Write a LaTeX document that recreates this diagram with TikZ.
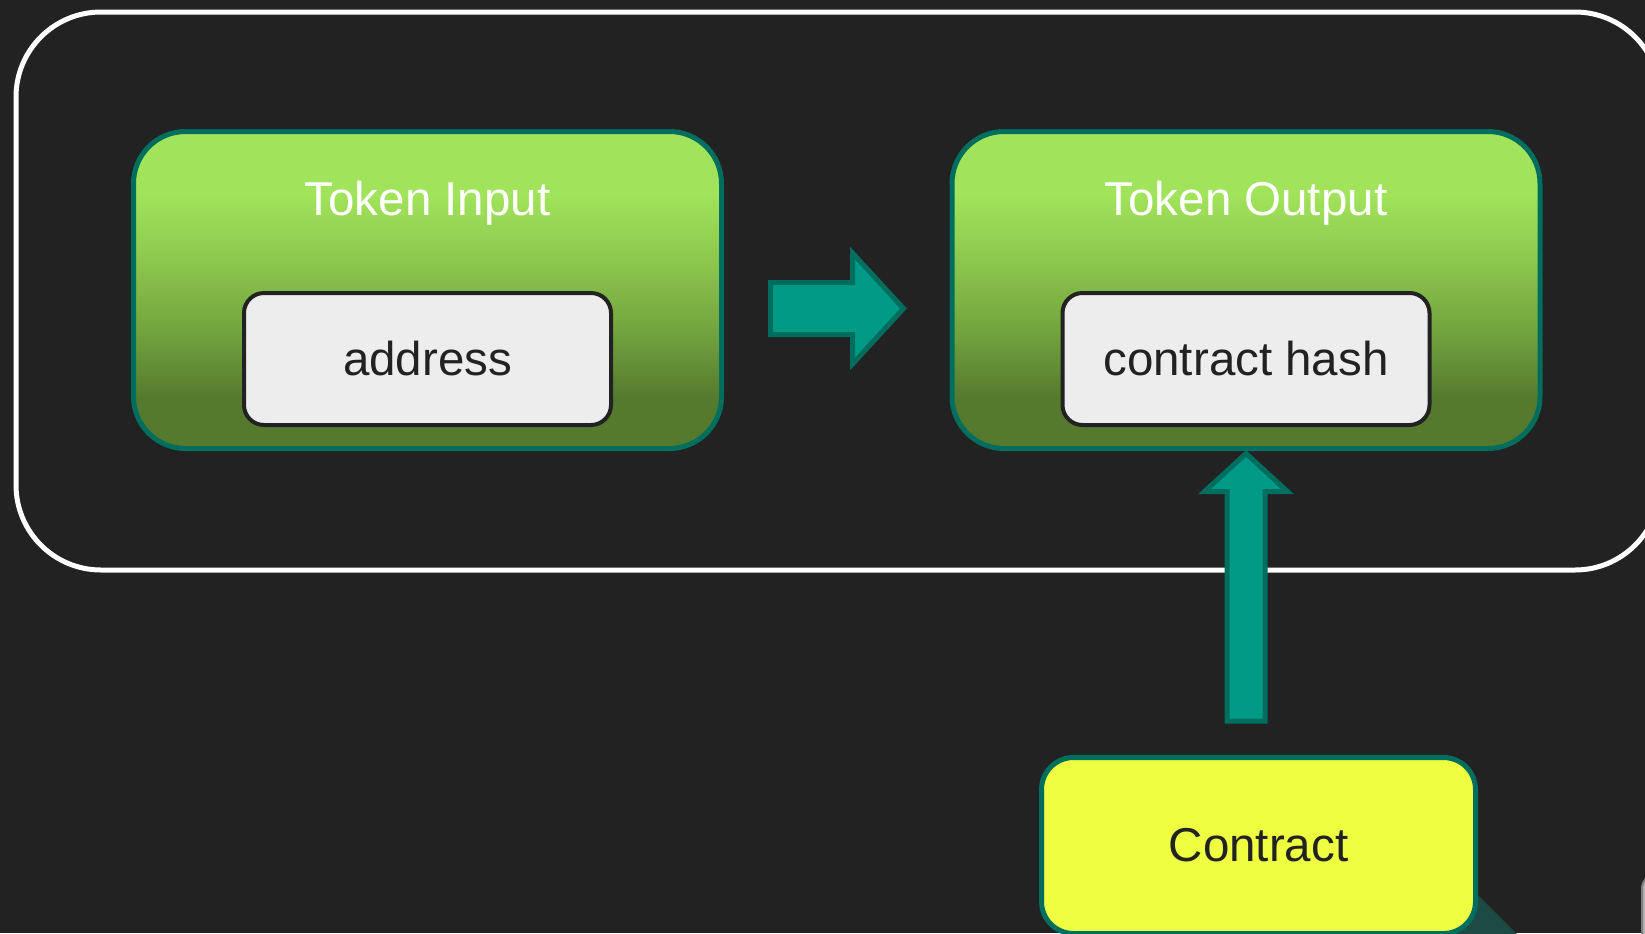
\documentclass[tikz,border=0pt]{standalone}
\usepackage{fontspec}
\setmainfont{Liberation Sans}
\usetikzlibrary{calc}

\definecolor{canvas}{HTML}{222222}
\definecolor{leafhi}{HTML}{A1E35B}
\definecolor{leafmid}{HTML}{8FCB50}
\definecolor{leaflow}{HTML}{74A53F}
\definecolor{leafdark}{HTML}{557A2E}
\definecolor{tealedge}{HTML}{006E5F}
\definecolor{tealfill}{HTML}{009A87}
\definecolor{tealshade}{HTML}{1C4A44}
\definecolor{chipfill}{HTML}{EDEDED}
\definecolor{ink}{HTML}{222222}
\definecolor{lemon}{HTML}{EEFF41}
\definecolor{offgray}{HTML}{B5B5B5}

\pgfdeclareverticalshading{leaf}{100bp}{color(0bp)=(leafdark); color(33bp)=(leafdark);
  color(44bp)=(leaflow); color(56bp)=(leafmid); color(65bp)=(leafhi); color(100bp)=(leafhi)}

\tikzset{
  bigfont/.style={font=\fontsize{23.75}{28}\selectfont},
  frame/.style={draw=white, line width=2.5pt, rounded corners=42.5pt},
  token/.style={draw=tealedge, line width=2.5pt, rounded corners=26pt, shading=leaf,
    minimum width=294pt, minimum height=158.5pt, inner sep=0pt},
  tokentitle/.style={bigfont, text=white, anchor=base, inner sep=0pt},
  chip/.style={draw=ink, line width=2pt, fill=chipfill, rounded corners=10pt,
    minimum width=183.5pt, minimum height=66pt, bigfont, text=ink},
  contractbox/.style={draw=tealedge, line width=2.5pt, fill=lemon, rounded corners=16pt,
    minimum width=217pt, minimum height=88pt, bigfont, text=ink},
  fatarrow/.style={draw=tealedge, fill=tealfill, line width=2.5pt, line join=miter}
}

\begin{document}
\begin{tikzpicture}[x=0.5pt, y=-0.5pt]
\useasboundingbox (0,0) rectangle (1645,933);
\clip (0,0) rectangle (1645,933);
\fill[canvas] (0,0) rectangle (1645,933);

\draw[frame] (16,12) rectangle (1660,570);

\node[token] (tin) at (427.5,290) {};
\node[tokentitle] at ($(tin.north)+(0,-43pt)$) {Token Input};
\node[chip] (address) at ($(tin.center)+(0,-34.5pt)$) {address};

\node[token] (tout) at (1246,290) {};
\node[tokentitle] at ($(tout.north)+(0,-43pt)$) {Token Output};
\node[chip] (hash) at ($(tout.center)+(0,-34.5pt)$) {contract hash};

% partly hidden shapes at the lower right
\fill[tealshade] (1476,893) -- (1518,935) -- (1450,935) -- cycle;
\draw[draw=gray, fill=offgray, line width=1pt, rounded corners=8pt] (1642,873) rectangle (1720,1000);

\node[contractbox] (contract) at (1258.5,845.5) {Contract};

\coordinate (flowtail) at ($(tin.east)+(23.25pt,-9.25pt)$);
\coordinate (flowtip) at ($(tout.west)+(-23pt,-9.25pt)$);
\draw[fatarrow] ($(flowtail)+(0,13pt)$) -| ($(flowtip)+(-25.5pt,27.75pt)$) -- (flowtip)
  -- ($(flowtip)+(-25.5pt,-27.75pt)$) |- ($(flowtail)+(0,-13pt)$) -- cycle;

\coordinate (feedtail) at ($(contract.north -| tout.south)+(0,17pt)$);
\coordinate (feedtip) at ($(tout.south)+(0,-1.25pt)$);
\draw[fatarrow] ($(feedtail)+(-9.5pt,0)$) |- ($(feedtip)+(-20.75pt,-19pt)$) -- (feedtip)
  -- ($(feedtip)+(20.75pt,-19pt)$) -| ($(feedtail)+(9.5pt,0)$) -- cycle;
\end{tikzpicture}
\end{document}
